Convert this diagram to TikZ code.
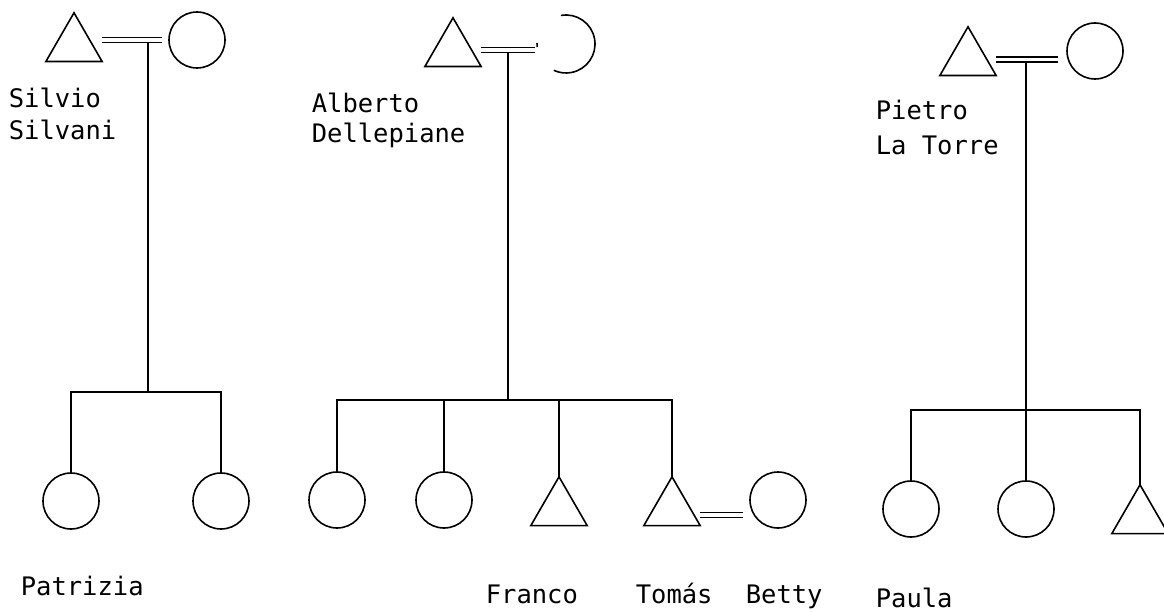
\documentclass[tikz,border=0pt]{standalone}
\usepackage{fontspec}
\newfontfamily\labfont{DejaVu Sans Mono}
\usetikzlibrary{shapes.geometric,calc}
\begin{document}
\begin{tikzpicture}[x=1pt,y=-1pt,
  line width=1.6pt,
  fem/.style={circle,draw,minimum size=56pt,inner sep=0pt,outer sep=0pt},
  mal/.style={regular polygon,regular polygon sides=3,draw,minimum size=65pt,inner sep=0pt,outer sep=0pt},
  marr/.style={double,double distance=3.6pt,line width=1.5pt},
  lab/.style={font=\labfont\fontsize{25.5}{32}\selectfont,anchor=base west,inner sep=0pt,align=left}]
\clip (0,0) rectangle (1164,612);
\useasboundingbox (0,0) rectangle (1164,612);

% ---------- family 1 ----------
\node[mal] (t1) at (74,45.3) {};
\node[fem] (c1) at (197,40) {};
\coordinate (m1) at (148,40);
\coordinate (b1) at (148,392);
\draw[marr] (t1.corner 3 |- m1) -- ($(c1.west |- m1)+(-7,0)$);
\draw ($(m1)+(0,3)$) -- (b1);
\node[fem] (k11) at (71,501) {};
\node[fem] (k12) at (221,501) {};
\draw (k11.north) |- (b1) -| (k12.north);
\node[lab] (l1) at (8,140) {Silvio\\Silvani};
\node[lab] (n11) at (20,595) {Patrizia};

% ---------- family 2 ----------
\node[mal] (t2) at (453,50.3) {};
\node[fem,draw=none,minimum size=58pt] (c2) at (566,44) {};
\draw (c2.100) arc[start angle=-100, end angle=115, radius=29];
\draw (c2.186) arc[start angle=-186, end angle=-178, radius=29];
\coordinate (m2) at (508,50);
\coordinate (b2) at (508,400);
\draw[marr] (t2.corner 3 |- m2) -- ($(c2.west |- m2)+(-2,0)$);
\draw ($(m2)+(0,3)$) -- (b2);
\node[fem] (k21) at (337,500) {};
\node[fem] (k22) at (444,500) {};
\node[mal] (k23) at (559,509.3) {};
\node[mal] (k24) at (672,509.3) {};
\node[fem] (k25) at (778,500) {};
\coordinate (m25) at (700,515);
\draw (k21.north) |- (b2) -| (k24.north);
\draw (b2 -| k22.north) -- (k22.north);
\draw (b2 -| k23.north) -- (k23.north);
\draw[marr] (k24.corner 3 |- m25) -- ($(k25.west |- m25)+(-7,0)$);
\node[lab] (l2) at (311,143) {Alberto\\[-2pt]Dellepiane};
\node[lab] (n23) at (485,603) {Franco};
\node[lab] (n24) at (635,603) {Tomás};
\node[lab] (n25) at (745,603) {Betty};

% ---------- family 3 ----------
\node[mal] (t3) at (968,59.3) {};
\node[fem] (c3) at (1095,51) {};
\coordinate (m3) at (1026,59.5);
\coordinate (b3) at (1026,410);
\draw[marr] (t3.corner 3 |- m3) -- ($(c3.west |- m3)+(-9,0)$);
\draw ($(m3)+(0,3)$) -- (b3);
\node[fem] (k31) at (911,509) {};
\node[fem] (k32) at (1026,509) {};
\node[mal] (k33) at (1140,517.3) {};
\draw (k31.north) |- (b3) -| (k33.north);
\draw (b3) -- (k32.north);
\node[lab] (l3) at (875,155) {Pietro\\[3pt]La Torre};
\node[lab] (n31) at (875,607) {Paula};
\end{tikzpicture}
\end{document}
